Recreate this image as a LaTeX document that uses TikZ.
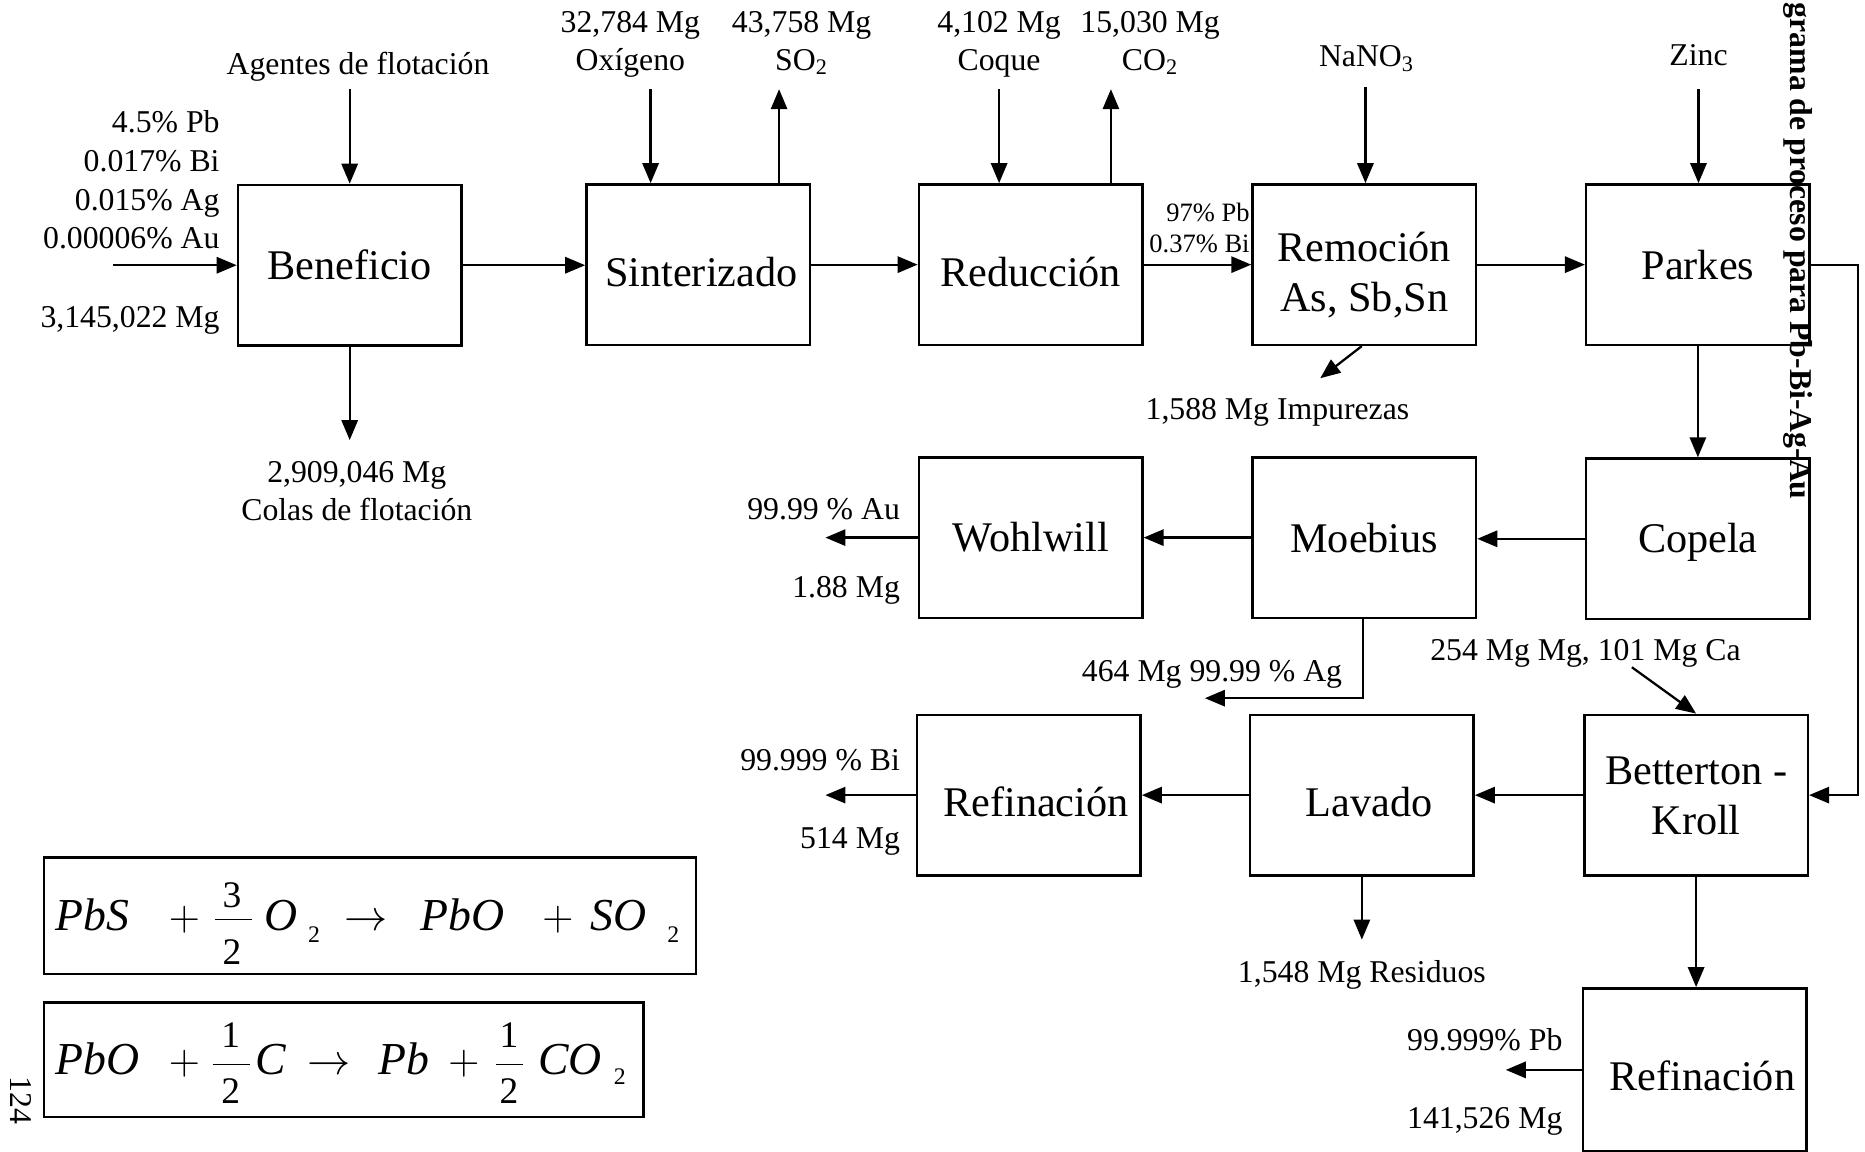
\documentclass[tikz,border=0pt]{standalone}
\usepackage{fontspec}
\setmainfont{Liberation Serif}
\usetikzlibrary{arrows.meta}

\newcommand\bigf{\fontsize{16.9}{20}\selectfont}
\newcommand\smf{\fontsize{12.7}{15}\selectfont}
\newcommand\tinyf{\fontsize{10.6}{12}\selectfont}
\newcommand\eqf{\fontsize{18.3}{20}\selectfont\itshape}
\newcommand\eqd{\fontsize{15}{17}\selectfont}
\newcommand\eqs{\fontsize{9.5}{11}\selectfont}
\newcommand\eqo{\fontsize{16.5}{18}\selectfont}
% lower a block caption inside its box without changing the box
\newcommand\dn[2]{\raisebox{-#1}[\height][\depth]{#2}}
\newcommand\two[2]{\begin{tabular}{@{}c@{}}#1\\#2\end{tabular}}

\begin{document}
\begin{tikzpicture}[x=0.4758pt, y=-0.4758pt,
  proc/.style={draw, line width=1pt, inner sep=0pt, align=center, font=\bigf,
    minimum width=89.4pt, minimum height=64.2pt},
  arr/.style={line width=0.9pt, -{Triangle[length=8pt,width=6.5pt]}},
  lbl/.style={font=\smf, inner sep=0pt},
  tlbl/.style={font=\tinyf, inner sep=0pt},
  eq/.style={inner sep=0pt, anchor=base west, font=\eqf},
  eqn/.style={inner sep=0pt, anchor=base},
  eqbox/.style={draw, line width=1pt}]

\useasboundingbox (0,0) rectangle (1568,968);
\fill[white] (0,0) rectangle (1568,968);

% process blocks
\node[proc] (ben)   at (294,223)    {Beneficio};
\node[proc] (sin)   at (587,222.5)  {\dn{2.8pt}{\hspace*{2.5pt}Sinterizado}};
\node[proc] (red)   at (866.5,222.5){\dn{2.8pt}{Reducción}};
\node[proc] (rem)   at (1147,222.5) {\dn{4.7pt}{\two{Remoción}{As, Sb,Sn}}};
\node[proc] (par)   at (1427.5,222.5){Parkes};
\node[proc] (woh)   at (866.5,452)  {Wohlwill};
\node[proc] (moe)   at (1147,452)   {Moebius};
\node[proc] (cop)   at (1427.5,453) {\dn{1.4pt}{Copela}};
\node[proc] (refbi) at (865,668.5)  {\dn{2.8pt}{\hspace*{5.7pt}Refinación}};
\node[proc] (lav)   at (1145,668.5) {\dn{2.8pt}{\hspace*{5.7pt}Lavado}};
\node[proc] (bet)   at (1426,668.5) {\dn{1.9pt}{\two{Betterton -}{Kroll}}};
\node[proc, minimum height=65.2pt] (refpb) at (1425,899.5) {\dn{2.4pt}{\hspace*{6pt}Refinación}};

% free ends of the streams
\coordinate (in0)   at (95,223);
\coordinate (agt)   at (294,75);
\coordinate (colas) at (294,370);
\coordinate (oxi)   at (547,75);
\coordinate (so2)   at (655,75);
\coordinate (coq)   at (840,75);
\coordinate (co2)   at (934,75);
\coordinate (nano)  at (1148,73);
\coordinate (zinc)  at (1428,75);
\coordinate (imp)   at (1110,318);
\coordinate (au)    at (694,452);
\coordinate (agd)   at (1146,587);
\coordinate (agt2)  at (1013,587);
\coordinate (mgca)  at (1372,561);
\coordinate (bi)    at (694,668.5);
\coordinate (res)   at (1145,790);
\coordinate (pb)    at (1266,899.5);
\coordinate (loopA) at (1562,222.5);
\coordinate (loopB) at (1562,668.5);

% main line
\draw[arr] (in0) -- (ben.west);
\draw[arr] (agt) -- (ben.north);
\draw[arr] (ben.south) -- (colas);
\draw[arr] (ben.east) -- (ben.east -| sin.west);
\draw[arr] (oxi) -- (oxi |- sin.north);
\draw[arr] (so2 |- sin.north) -- (so2);
\draw[arr] (sin.east) -- (red.west);
\draw[arr] (coq) -- (coq |- red.north);
\draw[arr] (co2 |- red.north) -- (co2);
\draw[arr] (red.east) -- (rem.west);
\draw[arr] (nano) -- (nano |- rem.north);
\draw[arr] ([xshift=-1pt]rem.south) -- (imp);
\draw[arr] (rem.east) -- (par.west);
\draw[arr] (zinc) -- (zinc |- par.north);
\draw[arr] (par.south) -- (cop.north);
\draw[arr] (par.east) -- (loopA) -- (loopB) -- (bet.east);

% precious metals
\draw[arr] (cop.west) -- (cop.west -| moe.east);
\draw[arr] (moe.west) -- (woh.east);
\draw[arr] (woh.west) -- (au);
\draw[arr] (agd |- moe.south) -- (agd) -- (agt2);

% bismuth and lead
\draw[arr] (mgca) -- (bet.north);
\draw[arr] (bet.west) -- (lav.east);
\draw[arr] (lav.west) -- (refbi.east);
\draw[arr] (refbi.west) -- (bi);
\draw[arr] (lav.south) -- (res);
\draw[arr] (bet.south) -- (bet.south |- refpb.north);
\draw[arr] (refpb.west) -- (pb);

% stream labels
\node[lbl, anchor=base] (tAgt) at (301,63) {Agentes de flotación};
\node[lbl, anchor=base east] (tPb)  at (185,111) {4.5\% Pb};
\node[lbl, anchor=base east] (tBi)  at (185,144) {0.017\% Bi};
\node[lbl, anchor=base east] (tAg)  at (185,177) {0.015\% Ag};
\node[lbl, anchor=base east] (tAu)  at (185,209) {0.00006\% Au};
\node[lbl, anchor=base east] (tMin) at (185,275) {3,145,022 Mg};
\node[lbl, anchor=base] (tCol1) at (300,406) {2,909,046 Mg};
\node[lbl, anchor=base] (tCol2) at (300,438) {Colas de flotación};
\node[lbl, anchor=base] (tOx1) at (530,27) {32,784 Mg};
\node[lbl, anchor=base] (tOx2) at (530,59) {Oxígeno};
\node[lbl, anchor=base] (tSo1) at (674,27) {43,758 Mg};
\node[lbl, anchor=base] (tSo2) at (674,59) {SO\textsubscript{2}};
\node[lbl, anchor=base] (tCq1) at (840,27) {4,102 Mg};
\node[lbl, anchor=base] (tCq2) at (840,59) {Coque};
\node[lbl, anchor=base] (tCo1) at (967,27) {15,030 Mg};
\node[lbl, anchor=base] (tCo2) at (967,59) {CO\textsubscript{2}};
\node[lbl, anchor=base] (tNa)  at (1149,56) {NaNO\textsubscript{3}};
\node[lbl, anchor=base] (tZn)  at (1428,55) {Zinc};
\node[tlbl, anchor=base east] (tRPb) at (1051,186) {97\% Pb};
\node[tlbl, anchor=base east] (tRBi) at (1051,212) {0.37\% Bi};
\node[lbl, anchor=base] (tImp) at (1074,353) {1,588 Mg Impurezas};
\node[lbl, anchor=base east] (tAu1) at (757,437) {99.99 \% Au};
\node[lbl, anchor=base east] (tAu2) at (757,502) {1.88 Mg};
\node[lbl, anchor=base] (tAgo) at (1019,573) {464 Mg 99.99 \% Ag};
\node[lbl, anchor=base] (tMg)  at (1333,555) {254 Mg Mg, 101 Mg Ca};
\node[lbl, anchor=base east] (tBi1) at (757,648) {99.999 \% Bi};
\node[lbl, anchor=base east] (tBi2) at (757,713) {514 Mg};
\node[lbl, anchor=base] (tRes) at (1145,826) {1,548 Mg Residuos};
\node[lbl, anchor=base east] (tPb1) at (1314,883) {99.999\% Pb};
\node[lbl, anchor=base east] (tPb2) at (1314,949) {141,526 Mg};

% rotated page title and page number
\node[rotate=-90, anchor=base west, inner sep=0pt, font=\bfseries\smf] (title)
  at (1505,2) {grama de proceso para Pb-Bi-Ag-Au};
\node[rotate=-90, anchor=base west, inner sep=0pt, font=\smf] (page)
  at (9,905) {124};

% roasting reaction
\draw[eqbox] (37,721) rectangle (585,819);
\node[eq] (e1a) at (46,782) {PbS};
\node[eqn, font=\eqo] (e1b) at (155,782) {$+$};
\node[eqn, font=\eqd] (e1c) at (195,763) {3};
\draw[line width=0.5pt] (181,773) -- (212,773);
\node[eqn, font=\eqd] (e1d) at (195,811) {2};
\node[eq] (e1e) at (222,782) {O};
\node[eqn, font=\eqs] (e1f) at (264,792) {2};
\node[eqn, font=\eqo] (e1g) at (308,782) {$\rightarrow$};
\node[eq] (e1h) at (353,782) {PbO};
\node[eqn, font=\eqo] (e1i) at (469,782) {$+$};
\node[eq] (e1j) at (496,782) {SO};
\node[eqn, font=\eqs] (e1k) at (566,792) {2};

% reduction reaction
\draw[eqbox] (37,843) rectangle (541,939);
\node[eq] (e2a) at (46,903) {PbO};
\node[eqn, font=\eqo] (e2b) at (155,903) {$+$};
\node[eqn, font=\eqd] (e2c) at (194,881) {1};
\draw[line width=0.5pt] (179,895) -- (210,895);
\node[eqn, font=\eqd] (e2d) at (194,928) {2};
\node[eq] (e2e) at (214,903) {C};
\node[eqn, font=\eqo] (e2f) at (277,903) {$\rightarrow$};
\node[eq] (e2g) at (318,903) {Pb};
\node[eqn, font=\eqo] (e2h) at (390,903) {$+$};
\node[eqn, font=\eqd] (e2i) at (428,881) {1};
\draw[line width=0.5pt] (417,895) -- (440,895);
\node[eqn, font=\eqd] (e2j) at (428,928) {2};
\node[eq] (e2k) at (452,903) {CO};
\node[eqn, font=\eqs] (e2l) at (521,912) {2};
\end{tikzpicture}
\end{document}
